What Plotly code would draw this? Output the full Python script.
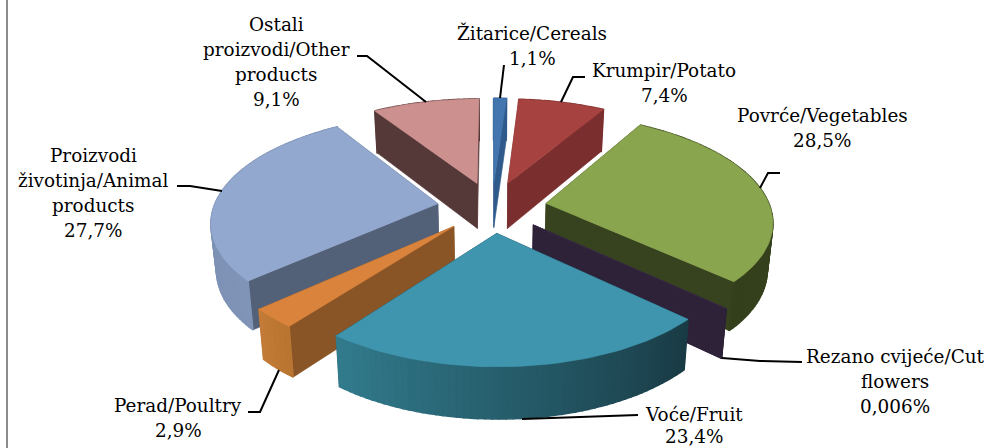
import math
import plotly.graph_objects as go

# --- data ---
categories = ["Žitarice/Cereals", "Krumpir/Potato", "Povrće/Vegetables", "Rezano cvijeće/Cut flowers",
              "Voće/Fruit", "Perad/Poultry", "Proizvodi životinja/Animal products", "Ostali proizvodi/Other products"]
values = [1.1, 7.4, 28.5, 0.006, 23.4, 2.9, 27.7, 9.1]
value_labels = ["1,1%", "7,4%", "28,5%", "0,006%", "23,4%", "2,9%", "27,7%", "9,1%"]
label_lines = [["Žitarice/Cereals"], ["Krumpir/Potato"], ["Povrće/Vegetables"], ["Rezano cvijeće/Cut", "flowers"],
               ["Voće/Fruit"], ["Perad/Poultry"], ["Proizvodi", "životinja/Animal", "products"],
               ["Ostali", "proizvodi/Other", "products"]]

# --- styles ---
top_colors = ["#4375AE", "#A64341", "#89A54E", "#3A2C4A", "#3F95AE", "#D9833C", "#92A8CE", "#CC908E"]
wall_colors = ["#2F5A8C", "#7A2E2D", "#37421E", "#2D2238", "#1B3D48", "#8A5526", "#536178", "#553838"]
arc_from = ["#2F5A8C", "#7A2E2D", "#3C4A20", "#2D2238", "#193A44", "#B87430", "#8094B8", "#553838"]
arc_to = ["#2F5A8C", "#7A2E2D", "#343F1C", "#2D2238", "#327C8E", "#C47C38", "#768AAC", "#553838"]
draw_order = [0, 7, 1, 6, 2, 3, 5, 4]

# --- layout of labels and leaders (pixels) ---
label_x = [532, 664, 822, 895, 694, 178, 93, 276]
label_y = [33, 70, 115, 356, 414, 405, 155, 24]
label_step = [25, 25, 25, 25, 22, 25, 25, 25]
leaders = [
    [(500, 98), (504, 65)],
    [(561, 102), (573, 77), (585, 77)],
    [(760, 188), (768, 173), (780, 173)],
    [(722, 358), (760, 361), (802, 362)],
    [(522, 419), (638, 415)],
    [(279, 370), (260, 412), (248, 412)],
    [(222, 191), (190, 186), (177, 186)],
    [(426, 102), (367, 56), (357, 56)],
]
FONT = "DejaVu Serif"
FONT_SIZE = 18.4

# --- 3-D pie projection ---
CX, CY, R, K, P, EXPL, THICK, BOT = 492, 207, 224, 104, 0.153, 0.245, 46, 0.98


def project(u, v, bottom=False):
    s = 1 / (1 - P * v)
    x = R * u * s
    y = K * v * s
    if bottom:
        return CX + x * BOT, CY + y + THICK * s ** 0.6
    return CX + x, CY + y


def mix(a, b, t):
    ca = [int(a[i:i + 2], 16) for i in (1, 3, 5)]
    cb = [int(b[i:i + 2], 16) for i in (1, 3, 5)]
    return "#%02X%02X%02X" % tuple(round(p + (q - p) * t) for p, q in zip(ca, cb))


fig = go.Figure()


def poly(pts, color, width=0.6):
    xs = [p[0] for p in pts] + [pts[0][0]]
    ys = [p[1] for p in pts] + [pts[0][1]]
    fig.add_trace(go.Scatter(x=xs, y=ys, mode="lines", fill="toself", fillcolor=color,
                             line=dict(color=color, width=width), hoverinfo="skip", showlegend=False))


total = sum(values)
starts = []
c = 0
for val in values:
    starts.append(c)
    c += val

for i in draw_order:
    a0 = starts[i] / total * 2 * math.pi
    a1 = (starts[i] + values[i]) / total * 2 * math.pi
    mid = (a0 + a1) / 2
    ou, ov = EXPL * math.sin(mid), -EXPL * math.cos(mid)
    n = max(2, int((a1 - a0) / math.radians(1.5)))
    angles = [a0 + (a1 - a0) * k / n for k in range(n + 1)]
    rim = [(ou + math.sin(a), ov - math.cos(a)) for a in angles]
    tip = (ou, ov)
    walls = []
    for k in range(n):
        p, q = rim[k], rim[k + 1]
        walls.append(((p[1] + q[1]) / 2,
                      [project(*p), project(*q), project(*q, bottom=True), project(*p, bottom=True)],
                      mix(arc_from[i], arc_to[i], (k + 0.5) / n), 1.5))
    for pt in (rim[0], rim[-1]):
        walls.append(((tip[1] + pt[1]) / 2,
                      [project(*tip), project(*pt), project(*pt, bottom=True), project(*tip, bottom=True)],
                      wall_colors[i], 0.6))
    for _, pts, col, w in sorted(walls, key=lambda w: w[0]):
        poly(pts, col, w)
    poly([project(*tip)] + [project(*p) for p in rim], top_colors[i])

for pts in leaders:
    fig.add_trace(go.Scatter(x=[p[0] for p in pts], y=[p[1] for p in pts], mode="lines",
                             line=dict(color="black", width=2), hoverinfo="skip", showlegend=False))

annotations = []
for i, lines in enumerate(label_lines):
    for j, txt in enumerate(lines + [value_labels[i]]):
        annotations.append(dict(x=label_x[i], y=label_y[i] + j * label_step[i], xref="x", yref="y", text=txt,
                                showarrow=False, xanchor="center", yanchor="middle",
                                font=dict(family=FONT, size=FONT_SIZE, color="black")))

fig.update_layout(
    width=986, height=448, margin=dict(l=0, r=0, t=0, b=0),
    paper_bgcolor="white", plot_bgcolor="white", showlegend=False,
    xaxis=dict(range=[0, 986], visible=False, fixedrange=True),
    yaxis=dict(range=[448, 0], visible=False, fixedrange=True),
    annotations=annotations,
    shapes=[dict(type="line", x0=7, x1=7, y0=0, y1=448, xref="x", yref="y",
                 line=dict(color="#8C8C8C", width=2))],
)
fig.write_html("out.html", config={"displayModeBar": False},
               post_script="document.body.style.margin='0';document.documentElement.style.overflow='hidden';")
